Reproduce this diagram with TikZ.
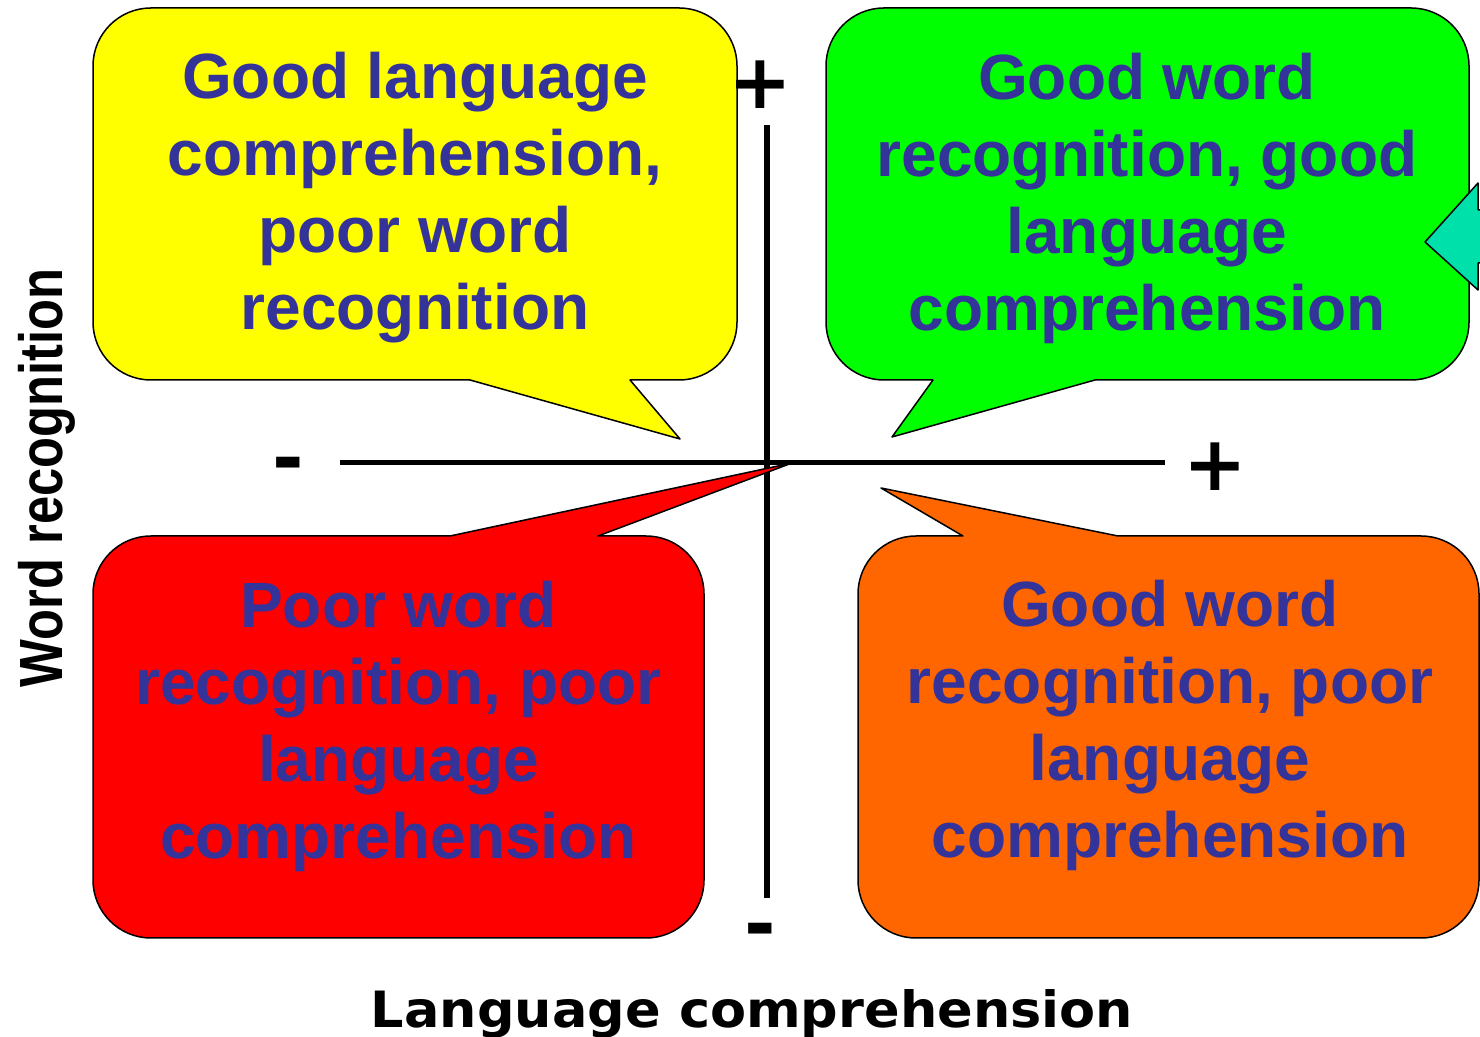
\documentclass[tikz,border=0pt]{standalone}
\usepackage{fontspec}
\setmainfont{Liberation Sans}
\newfontfamily\dejavu{DejaVu Sans}
\definecolor{txtblue}{RGB}{51,51,153}
\definecolor{cyellow}{RGB}{255,255,0}
\definecolor{cgreen}{RGB}{0,255,0}
\definecolor{cred}{RGB}{255,0,0}
\definecolor{corange}{RGB}{255,102,0}
\definecolor{cteal}{RGB}{0,224,170}
\tikzset{
  callout/.style={draw=black, line width=1.5pt, line join=round},
  boxtext/.style={font=\bfseries\fontsize{64}{77}\selectfont, text=txtblue, align=center, inner sep=0pt},
  axis/.style={draw=black, line width=5pt},
  signtext/.style={font=\dejavu\bfseries\fontsize{76}{76}\selectfont, inner sep=0pt},
}
\begin{document}
\begin{tikzpicture}[x=1pt,y=1pt]
\useasboundingbox (0,0) rectangle (1480,1036);
% axes
\coordinate (hl) at (340,573);
\coordinate (hr) at (1165,573);
\coordinate (vt) at (767,911);
\coordinate (vb) at (767,138);
\draw[axis] (hl) -- (hr);
\draw[axis, line width=6pt] (vt) -- (vb);
% yellow callout
\draw[callout, fill=cyellow] (151,1028) -- (679,1028) arc[start angle=90,end angle=0,radius=58]
  -- (737,714) arc[start angle=0,end angle=-90,radius=58] -- (630,656) -- (680,597) -- (470,656)
  -- (151,656) arc[start angle=270,end angle=180,radius=58] -- (93,970) arc[start angle=180,end angle=90,radius=58] -- cycle;
% green callout
\draw[callout, fill=cgreen] (884,1028) -- (1411,1028) arc[start angle=90,end angle=0,radius=58]
  -- (1469,714) arc[start angle=0,end angle=-90,radius=58] -- (1095,656) -- (892,599) -- (933,656)
  -- (884,656) arc[start angle=270,end angle=180,radius=58] -- (826,970) arc[start angle=180,end angle=90,radius=58] -- cycle;
% red callout
\draw[callout, fill=cred] (151,500) -- (450,500) -- (792,573) -- (598,500) -- (646,500) arc[start angle=90,end angle=0,radius=58]
  -- (704,156) arc[start angle=0,end angle=-90,radius=58] -- (151,98) arc[start angle=270,end angle=180,radius=58]
  -- (93,442) arc[start angle=180,end angle=90,radius=58] -- cycle;
% orange callout
\draw[callout, fill=corange] (916,500) -- (963,500) -- (881,548) -- (1118,500) -- (1421,500) arc[start angle=90,end angle=0,radius=58]
  -- (1479,156) arc[start angle=0,end angle=-90,radius=58] -- (916,98) arc[start angle=270,end angle=180,radius=58]
  -- (858,442) arc[start angle=180,end angle=90,radius=58] -- cycle;
% teal arrow (cut off at right edge)
\begin{scope}
\clip (0,0) rectangle (1480,1036);
\draw[callout, fill=cteal] (1425,794) -- (1478,853) -- (1478,826) -- (1530,826) -- (1530,773) -- (1478,773) -- (1478,746) -- cycle;
\end{scope}
% texts
\node[boxtext] (ty) at (415,838) {Good language\\comprehension,\\poor word\\recognition};
\node[boxtext] (tg) at (1147,838) {Good word\\recognition, good\\language\\comprehension};
\node[boxtext] (tr) at (398.5,310) {Poor word\\recognition, poor\\language\\comprehension};
\node[boxtext] (to) at (1170,311) {Good word\\recognition, poor\\language\\comprehension};
% signs
\node[signtext] (ptop) at (760,951) {+};
\node[signtext] (pright) at (1215,569) {+};
\node[signtext] (mleft) at (288,565) {-};
\node[signtext] (mbot) at (760,99) {-};
% axis labels
\node[font=\dejavu\bfseries\fontsize{50}{50}\selectfont, anchor=base, inner sep=0pt] (xlab) at (752,9) {\scalebox{1.05}[1]{Language comprehension}};
\node[font=\bfseries\fontsize{61}{61}\selectfont, rotate=90, anchor=base, inner sep=0pt] (ylab) at (62,558) {\scalebox{0.83}[1]{Word recognition}};
\end{tikzpicture}
\end{document}
